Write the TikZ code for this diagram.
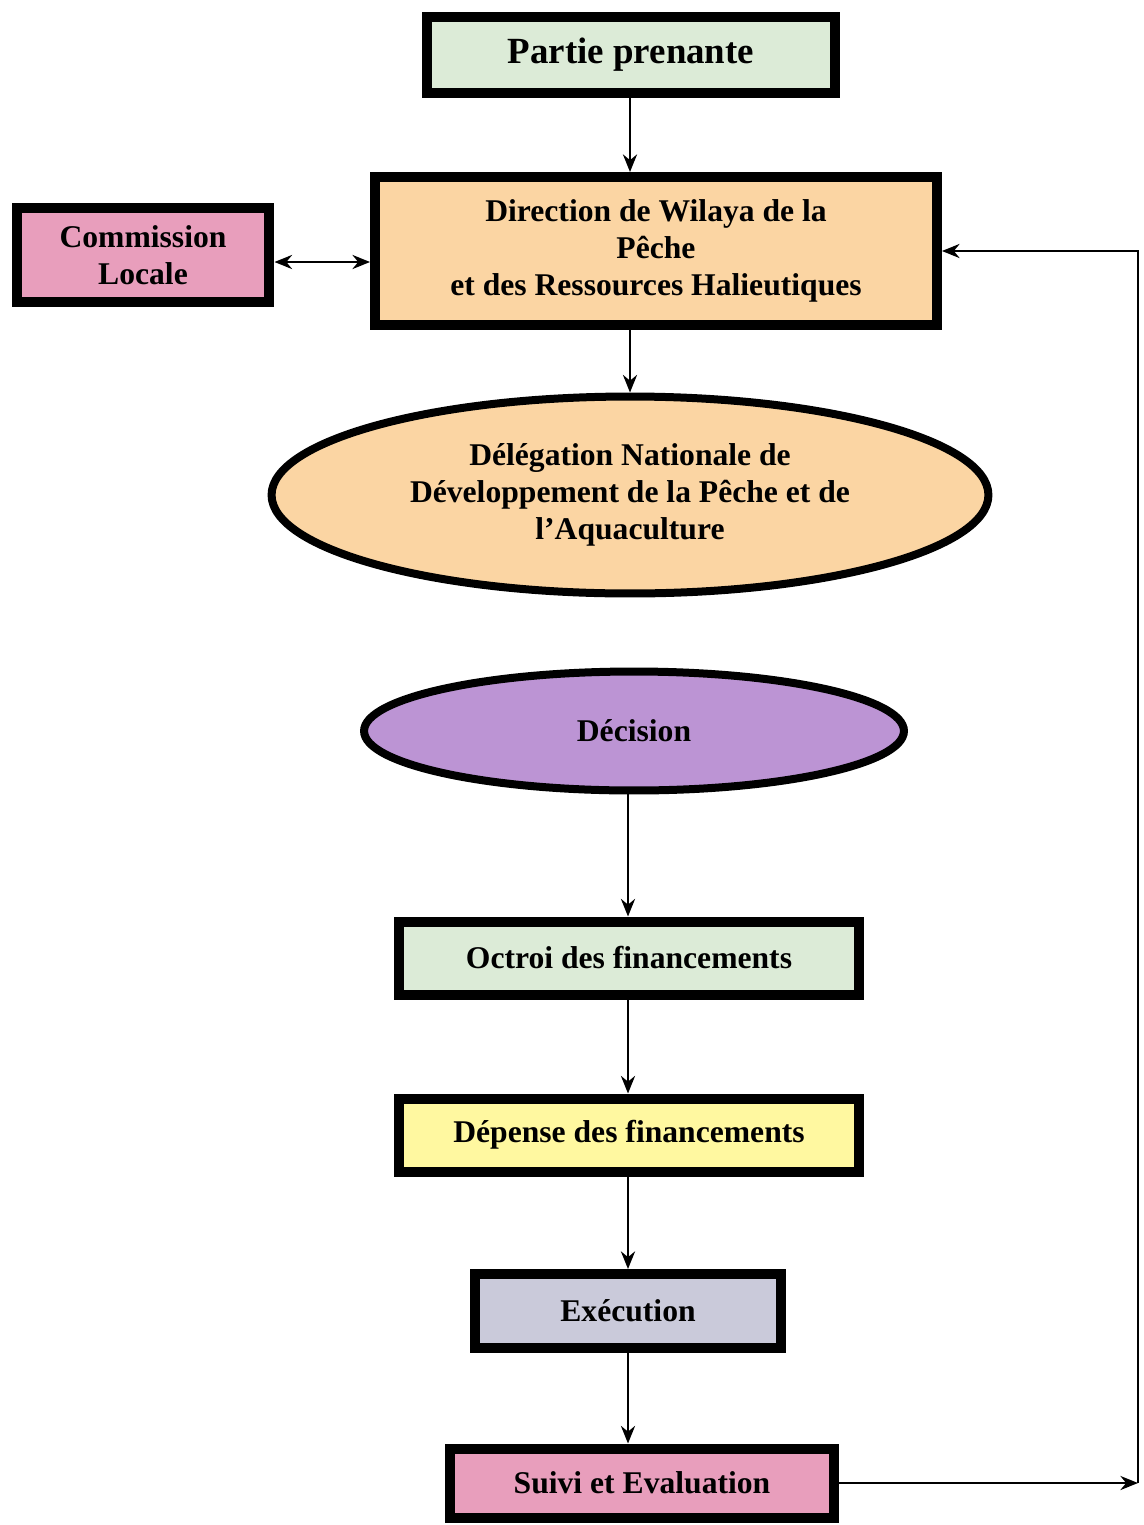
\documentclass[tikz,border=0pt]{standalone}
\usepackage{fontspec}
\setmainfont{Liberation Serif}
\usetikzlibrary{shapes.geometric,arrows.meta}
\definecolor{vertpale}{RGB}{220,235,215}
\definecolor{peche}{RGB}{251,213,163}
\definecolor{rose}{RGB}{232,158,188}
\definecolor{mauve}{RGB}{188,148,212}
\definecolor{jaune}{RGB}{255,248,160}
\definecolor{grisbleu}{RGB}{202,202,218}
\begin{document}
\begin{tikzpicture}[x=0.02cm, y=-0.02cm,
  boite/.style={rectangle, draw, line width=10*0.02cm, inner sep=2pt, align=center, font=\fontsize{18}{21}\selectfont\bfseries},
  ovale/.style={ellipse, draw, line width=8*0.02cm, inner sep=0pt, align=center, font=\fontsize{18}{21}\selectfont\bfseries},
  fleche/.style={-{Stealth[length=10pt, width=8pt]}, line width=1.5pt}]
\useasboundingbox (0,0) rectangle (1143,1525);
\node[boite, fill=vertpale, minimum width=8.16cm, minimum height=1.52cm, font=\fontsize{21}{25}\selectfont\bfseries] (partie) at (631,55) {Partie prenante};
\node[boite, fill=peche, minimum width=11.24cm, minimum height=2.96cm] (dir) at (656,251) {Direction de Wilaya de la\\Pêche\\et des Ressources Halieutiques};
\node[boite, fill=rose, minimum width=5.06cm, minimum height=1.88cm] (comm) at (143,255) {Commission\\Locale};
\node[ovale, fill=peche, minimum width=14.34cm, minimum height=3.94cm] (deleg) at (630,495) {Délégation Nationale de\\Développement de la Pêche et de\\l’Aquaculture};
\node[ovale, fill=mauve, minimum width=10.8cm, minimum height=2.38cm] (decis) at (634,731) {Décision};
\node[boite, fill=vertpale, minimum width=9.2cm, minimum height=1.46cm] (octroi) at (629,958) {Octroi des financements};
\node[boite, fill=jaune, minimum width=9.2cm, minimum height=1.46cm] (depense) at (629,1135) {Dépense des financements};
\node[boite, fill=grisbleu, minimum width=6.14cm, minimum height=1.48cm] (exec) at (628,1311) {Exécution};
\node[boite, fill=rose, minimum width=7.68cm, minimum height=1.38cm] (suivi) at (642,1483) {Suivi et Evaluation};
\coordinate (coin) at (1138,1483);
\draw[fleche] (partie.south -| 630,0) -- (dir.north -| 630,0);
\draw[fleche] (dir.south -| 630,0) -- (deleg.north -| 630,0);
\draw[{Stealth[length=10pt, width=8pt]}-{Stealth[length=10pt, width=8pt]}, line width=1.5pt] (comm.east |- 0,262) -- (dir.west |- 0,262);
\draw[fleche] (decis.south -| 628,0) -- (octroi.north -| 628,0);
\draw[fleche] (octroi.south -| 628,0) -- (depense.north -| 628,0);
\draw[fleche] (depense.south -| 628,0) -- (exec.north -| 628,0);
\draw[fleche] (exec.south -| 628,0) -- (suivi.north -| 628,0);
\draw[fleche] (suivi.east) -- (coin);
\draw[fleche] (coin) |- (dir.east);
\end{tikzpicture}
\end{document}
